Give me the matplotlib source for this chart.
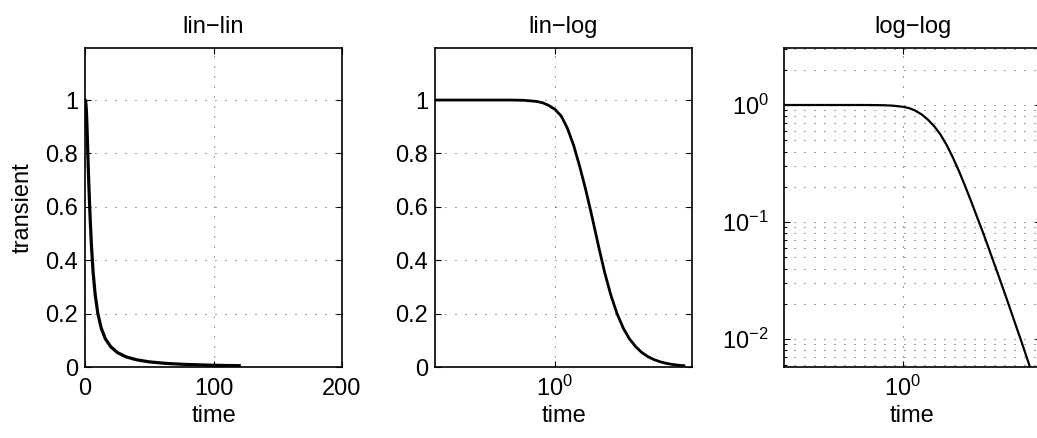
import numpy as np
import matplotlib
matplotlib.use("Agg")
import matplotlib.pyplot as plt
from matplotlib.ticker import LogLocator, NullLocator, FixedLocator

# %% data
time = [0.01, 0.03, 0.1, 0.2, 0.316, 0.5, 0.63, 0.79, 1.0, 1.26, 1.58, 2.0,
        2.51, 3.16, 3.98, 5.01, 6.31, 7.94, 10.0, 12.6, 15.8, 20.0, 25.1,
        31.6, 39.8, 50.1, 63.1, 79.4, 100, 120]
transient = [1.0, 1.0, 1.0, 1.0, 0.999, 0.995, 0.99, 0.98, 0.965, 0.94,
             0.895, 0.83, 0.75, 0.66, 0.56, 0.455, 0.355, 0.27, 0.20, 0.146,
             0.106, 0.0762, 0.0544, 0.0386, 0.0273, 0.0192, 0.0134, 0.0094,
             0.0065, 0.0049]

titles = ["lin\u2212lin", "lin\u2212log", "log\u2212log"]
lin_xticks = [0, 100, 200]
lin_yticks = [0, 0.2, 0.4, 0.6, 0.8, 1]
lin_yticklabels = ["0", "0.2", "0.4", "0.6", "0.8", "1"]

# %% style
plt.rcParams["font.family"] = ["Liberation Sans", "DejaVu Sans"]
plt.rcParams["mathtext.fontset"] = "custom"
plt.rcParams["mathtext.rm"] = "Liberation Sans"
plt.rcParams["mathtext.it"] = "Liberation Sans:italic"
plt.rcParams["lines.scale_dashes"] = False

fs = 17
grid_kw = dict(color="0.2", linewidth=0.7, linestyle=(0, (0.7, 6.5)))

fig = plt.figure(figsize=(10.37, 4.38), dpi=100)
bottom, height = 1 - 367 / 438, 319 / 438
lefts = [85 / 1037, 435 / 1037, 784 / 1037]
width = 257 / 1037
axes = [fig.add_axes([l, bottom, width, height]) for l in lefts]


def style_axes(ax):
    for sp in ax.spines.values():
        sp.set_linewidth(1.2)
    ax.tick_params(which="both", direction="in", top=True, right=True,
                   labelsize=fs, width=0.8)
    ax.tick_params(which="major", length=4)
    ax.tick_params(which="minor", length=2.5)
    ax.tick_params(axis="y", pad=5)
    ax.set_title(ax.get_title(), fontsize=fs, pad=11)


# lin-lin
ax = axes[0]
ax.plot(time, transient, color="k", linewidth=2.3)
ax.set_xlim(0, 200)
ax.set_ylim(0, 1.195)
ax.set_xticks(lin_xticks)
ax.set_yticks(lin_yticks)
ax.set_yticklabels(lin_yticklabels)
ax.grid(True, **grid_kw)
ax.set_title(titles[0])
ax.set_ylabel("transient", fontsize=fs)
ax.yaxis.set_label_coords(-0.2, 0.5)
style_axes(ax)
ax.tick_params(axis="x", pad=8)

# lin-log
ax = axes[1]
ax.semilogx(time, transient, color="k", linewidth=2.0)
ax.set_xlim(0.0116, 162)
ax.set_ylim(0, 1.195)
ax.xaxis.set_major_locator(FixedLocator([1]))
ax.xaxis.set_minor_locator(NullLocator())
ax.set_xticklabels([r"$10^0$"])
ax.set_yticks(lin_yticks)
ax.set_yticklabels(lin_yticklabels)
ax.grid(True, **grid_kw)
ax.set_title(titles[1])
style_axes(ax)
ax.tick_params(axis="x", pad=6)

# log-log
ax = axes[2]
ax.loglog(time, transient, color="k", linewidth=1.6)
ax.set_xlim(0.0125, 162)
ax.set_ylim(0.00577, 3.07)
ax.xaxis.set_major_locator(FixedLocator([1]))
ax.xaxis.set_minor_locator(NullLocator())
ax.set_xticklabels([r"$10^0$"])
ax.yaxis.set_major_locator(FixedLocator([0.01, 0.1, 1]))
ax.set_yticklabels([r"$10^{-2}$", r"$10^{-1}$", r"$10^0$"])
ax.yaxis.set_minor_locator(LogLocator(base=10, subs=np.arange(2, 10)))
ax.yaxis.set_minor_formatter(plt.NullFormatter())
ax.grid(True, which="major", **grid_kw)
ax.grid(True, which="minor", axis="y", **grid_kw)
ax.set_title(titles[2])
style_axes(ax)
ax.tick_params(axis="x", pad=6)
ax.tick_params(axis="y", pad=11)

for ax in axes:
    ax.set_xlabel("time", fontsize=fs)
    ax.xaxis.set_label_coords(0.5, -0.12)

fig.savefig("out.png", dpi=100)
